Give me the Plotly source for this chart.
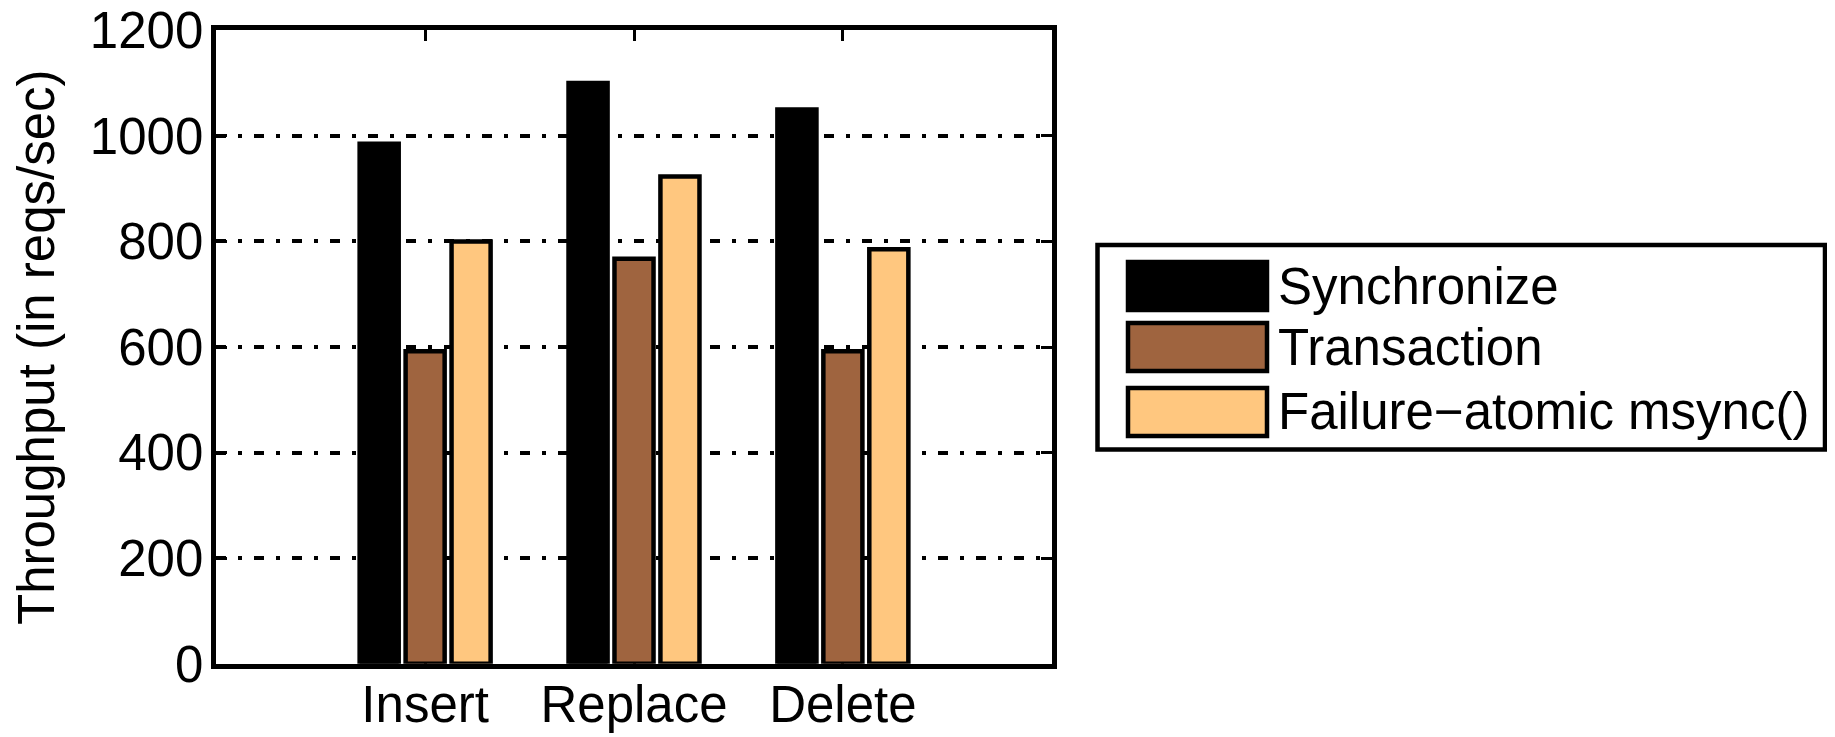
import plotly.graph_objects as go

# ---- data ----
categories = ["Insert", "Replace", "Delete"]
series_names = ["Synchronize", "Transaction", "Failure\u2212atomic msync()"]
synchronize = [985, 1100, 1050]
transaction = [592, 767, 592]
failure_atomic = [800, 923, 785]
y_ticks = [0, 200, 400, 600, 800, 1000, 1200]

# copper colormap (3 levels)
colors = ["#000000", "#9F643F", "#FFC77F"]

# page body has an 8px margin; compensate so the figure fills the window
OX, OY = 8, 8
W, H = 1835 - OX, 737 - OY
FONT = "Liberation Sans, Arial, sans-serif"
FS = 51
LW = 4.5

def px(x):
    return (x - OX) / W

def py(y):
    return 1 - (y - OY) / H

x_pos = list(range(1, len(categories) + 1))

fig = go.Figure()
for name, vals, col in zip(series_names, [synchronize, transaction, failure_atomic], colors):
    fig.add_trace(go.Bar(
        x=x_pos, y=vals, name=name,
        marker=dict(color=col, line=dict(color="black", width=LW)),
        showlegend=False,
    ))

# plot area (spine centres at x 214..1054, y 28..666 in window pixels)
half = LW / 2
fig.update_layout(
    template="none",
    width=W, height=H,
    margin=dict(l=0, r=0, t=0, b=0, pad=0, autoexpand=False),
    paper_bgcolor="white", plot_bgcolor="white",
    barmode="group", bargap=0.34, bargroupgap=0.15,
    font=dict(family=FONT, size=FS, color="black"),
    xaxis=dict(
        domain=[px(214 + half), px(1054 - half)],
        range=[0, 4], automargin=False,
        tickmode="array", tickvals=x_pos, ticktext=categories,
        ticks="inside", ticklen=11, tickwidth=3, tickcolor="black",
        showline=True, linewidth=LW, linecolor="black", mirror="ticks",
        showgrid=False, zeroline=False, layer="below traces",
        ticklabelstandoff=-8, ticklabeloverflow="allow",
        tickfont=dict(family=FONT, size=FS, color="black"),
    ),
    yaxis=dict(
        domain=[py(666 - half), py(28 + half)],
        range=[0, 1200], automargin=False,
        tickmode="array", tickvals=y_ticks, ticktext=[str(v) for v in y_ticks],
        ticks="inside", ticklen=11, tickwidth=3, tickcolor="black",
        showline=True, linewidth=LW, linecolor="black", mirror="ticks",
        showgrid=True, gridcolor="black", gridwidth=3.5,
        griddash="10px,12px,4px,12px",
        zeroline=False, layer="below traces",
        ticklabelstandoff=-2, ticklabeloverflow="allow",
        tickfont=dict(family=FONT, size=FS, color="black"),
    ),
)

# y-axis title
fig.add_annotation(
    text="Throughput (in reqs/sec)", textangle=-90,
    xref="paper", yref="paper", x=px(36), y=py(347),
    xanchor="center", yanchor="middle", showarrow=False,
    font=dict(family=FONT, size=FS, color="black"),
)

# legend (drawn manually to match large swatches)
fig.add_shape(type="rect", xref="paper", yref="paper",
              x0=px(1097.5), x1=px(1825), y0=py(449.5), y1=py(245),
              line=dict(color="black", width=LW), fillcolor="white", layer="above")
row_centres = [286, 347, 412]
for name, col, yc in zip(series_names, colors, row_centres):
    fig.add_shape(type="rect", xref="paper", yref="paper",
                  x0=px(1128), x1=px(1267), y0=py(yc + 24), y1=py(yc - 24),
                  line=dict(color="black", width=LW), fillcolor=col, layer="above")
    fig.add_annotation(
        text=name, xref="paper", yref="paper", x=px(1276), y=py(yc),
        xanchor="left", yanchor="middle", showarrow=False,
        font=dict(family=FONT, size=FS, color="black"),
    )

fig.write_html("out.html")
